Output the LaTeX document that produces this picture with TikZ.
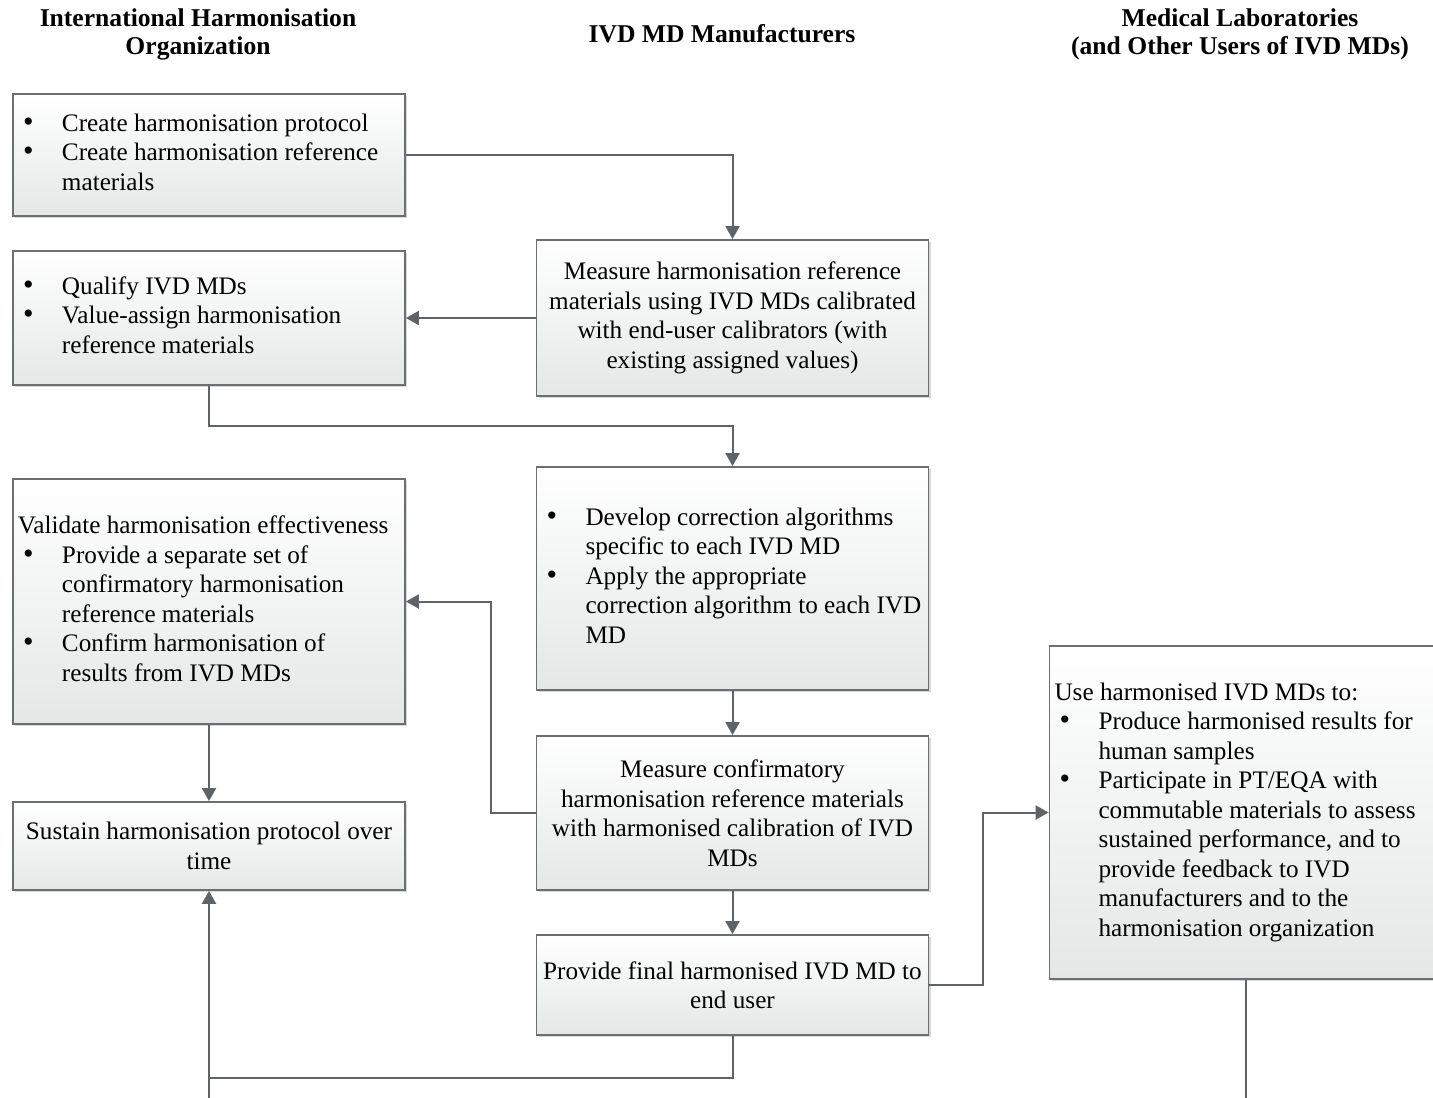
\documentclass[tikz,border=0pt]{standalone}
\usepackage{fontspec}
\setmainfont{Liberation Serif}
\usetikzlibrary{positioning,arrows.meta,shadows}

\newcommand{\bl}{\makebox[22pt][l]{\hspace{2.5pt}{\fontsize{15}{14.75}\selectfont\textbullet}}}
\newcommand{\cont}{\hspace*{22pt}}
\newcommand{\lft}[1]{\raisebox{-1.5pt}{\makebox[191pt][l]{\begin{tabular}{@{}l@{}}#1\end{tabular}}}}

\begin{document}
\begin{tikzpicture}[x=0.5pt,y=-0.5pt,
  font=\fontsize{12.6}{14.75}\selectfont,
  box/.style={draw=cbord,line width=0.9pt,top color=white,bottom color=cfill,
    drop shadow={shadow xshift=1.2pt,shadow yshift=-1.2pt,fill=black!35,opacity=0.45},
    inner xsep=2.5pt,inner ysep=2pt,minimum width=196pt},
  lbox/.style={box},
  cbox/.style={box,align=center},
  head/.style={font=\fontsize{12.8}{14}\selectfont\bfseries,align=center},
  arr/.style={draw=cline,line width=1pt,-{Triangle[length=6.5pt,width=7pt]}},
  ln/.style={draw=cline,line width=1pt}]
\definecolor{cbord}{RGB}{108,111,114}
\definecolor{cline}{RGB}{95,99,102}
\definecolor{cfill}{RGB}{229,231,231}
\useasboundingbox (0,0) rectangle (1433,1097);

% --- column headings ---
\node[head] (hLeft) at (198,34) {International Harmonisation\\Organization};
\node[head] (hMid) at (722,34) {IVD MD Manufacturers};
\node[head] (hRight) at (1240,34) {Medical Laboratories\\(and Other Users of IVD MDs)};

% --- harmonisation organization ---
\node[lbox,minimum height=61pt] (create) at (209,155)
  {\lft{\bl Create harmonisation protocol\\ \bl Create harmonisation reference\\ \cont materials}};
\node[lbox,minimum height=67pt] (qualify) at (209,318)
  {\lft{\bl Qualify IVD MDs\\ \bl Value-assign harmonisation\\ \cont reference materials}};
\node[lbox,minimum height=122.5pt] (validate) at (209,601.5)
  {\lft{Validate harmonisation effectiveness\\ \bl Provide a separate set of\\ \cont confirmatory harmonisation\\
   \cont reference materials\\ \bl Confirm harmonisation of\\ \cont results from IVD MDs}};
\node[cbox,minimum height=44pt] (sustain) at (209,846)
  {Sustain harmonisation protocol over\\time};

% --- manufacturers ---
\node[cbox,minimum height=78pt] (measure) at (732.5,318)
  {Measure harmonisation reference\\materials using IVD MDs calibrated\\with end-user calibrators (with\\existing assigned values)};
\node[lbox,minimum height=111.5pt] (develop) at (732.5,578.5)
  {\lft{\bl Develop correction algorithms\\ \cont specific to each IVD MD\\ \bl Apply the appropriate\\
   \cont correction algorithm to each IVD\\ \cont MD}};
\node[cbox,minimum height=77pt] (confirm) at (732.5,813)
  {Measure confirmatory\\harmonisation reference materials\\with harmonised calibration of IVD\\MDs};
\node[cbox,minimum height=50pt] (provide) at (732.5,985)
  {Provide final harmonised IVD MD to\\end user};

% --- laboratories ---
\node[lbox,minimum height=166.5pt] (use) at (1245.5,812.5)
  {\lft{Use harmonised IVD MDs to:\\ \bl Produce harmonised results for\\ \cont human samples\\
   \bl Participate in PT/EQA with\\ \cont commutable materials to assess\\ \cont sustained performance, and to\\
   \cont provide feedback to IVD\\ \cont manufacturers and to the\\ \cont harmonisation organization}};

% --- connectors ---
\draw[arr] (create.east) -| (measure.north);
\draw[arr] (measure.west) -- (qualify.east);
\draw[arr] (qualify.south) -- ++(0,40) -| (develop.north);
\draw[arr] (develop) -- (confirm);
\draw[arr] (confirm.west) -- ++(-45,0) |- (validate.east);
\draw[arr] (validate) -- (sustain);
\draw[arr] (confirm) -- (provide);
\draw[arr] (provide.east) -- ++(54,0) |- (use.west);

% --- feedback loop, leaving the page at the bottom ---
\coordinate (loopIn) at (209,1100);
\coordinate (loopJoin) at (209,1078);
\coordinate (useOut) at (1245.5,1100);
\draw[arr] (loopIn) -- (sustain.south);
\draw[ln] (provide.south) |- (loopJoin);
\draw[ln] (use.south) -- (useOut);
\end{tikzpicture}
\end{document}
